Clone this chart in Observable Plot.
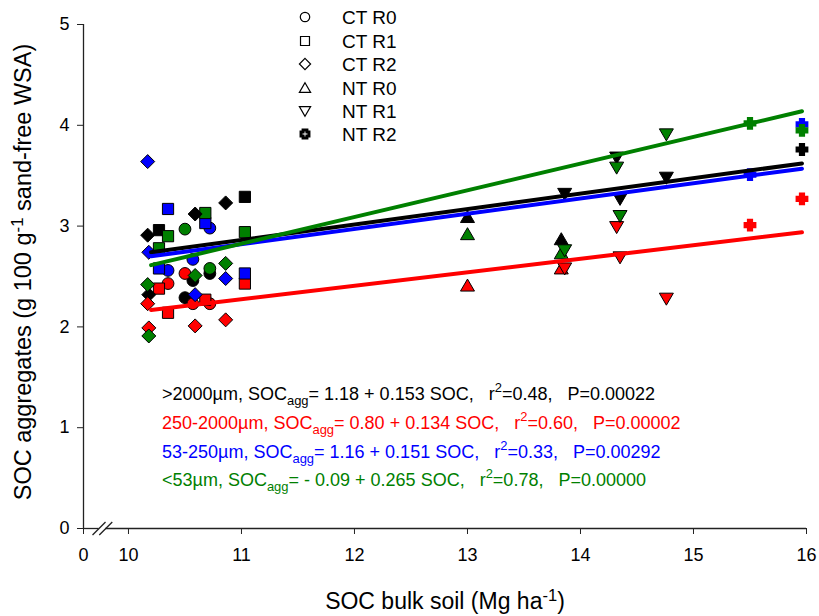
<!DOCTYPE html>
<html><head><meta charset="utf-8">
<script src="https://cdn.jsdelivr.net/npm/d3@7"></script>
<script src="https://cdn.jsdelivr.net/npm/@observablehq/plot@0.6"></script>
<style>body{margin:0;background:#fff} #chart{width:819px;height:616px}</style>
</head><body><div id="chart"></div>
<script>
// ---------- data ----------
const treatments = ["CT R0", "CT R1", "CT R2", "NT R0", "NT R1", "NT R2"];
const fractions = [">2000µm", "250-2000µm", "53-250µm", "<53µm"];
const fractionColors = ["#000000", "#ff0000", "#0000ff", "#008000"];

// bulk-soil SOC (x) per replicate, and SOC of aggregates per fraction [black, red, blue, green]
const socCTR0 = [10.35, 10.50, 10.57, 10.72];
const aggCTR0 = [[null, 2.29, 2.46, 2.53], [2.43, 2.53, 2.23, 2.23], [2.56, null, 2.67, 2.98], [null, 2.97, null, 2.58]];
const socCTR1 = [10.27, 10.35, 10.68, 11.03];
const aggCTR1 = [[2.96, null, null, 3.29], [2.38, 2.14, 2.27, 2.43], [2.58, 3.17, 3.03, 2.53], [2.78, 2.90, 3.13, 2.94]];
const socCTR2 = [10.17, 10.18, 10.59, 10.86];
const aggCTR2 = [[2.91, 2.32, 3.12, 3.23], [2.23, 1.99, 2.01, 2.07], [3.64, 2.74, 2.32, 2.48], [2.42, 1.91, 2.51, 2.63]];
const socNTR0 = [13.00, 13.83];
const aggNTR0 = [[3.09, 2.87], [2.41, 2.58], [null, null], [2.92, 2.73]];
const socNTR1 = [13.86, 14.32, 14.35, 14.76];
const aggNTR1 = [[3.32, 3.68, 3.27, 3.48], [2.58, 2.99, 2.69, 2.28], [null, null, null, null], [2.76, 3.58, 3.10, 3.91]];
const socNTR2 = [15.50, 15.96];
const aggNTR2 = [[null, 3.76], [3.01, 3.27], [3.51, 4.01], [4.02, 3.95]];

// regression lines (intercept, slope) and fitted range
const regIntercept = [1.18, 0.80, 1.16, -0.09];
const regSlope = [0.153, 0.134, 0.151, 0.265];
const regRange = [10.2, 15.96];
const regLabels = [
  [">2000µm, SOC", "= 1.18 + 0.153 SOC,   r", "=0.48,   P=0.00022"],
  ["250-2000µm, SOC", "= 0.80 + 0.134 SOC,   r", "=0.60,   P=0.00002"],
  ["53-250µm, SOC", "= 1.16 + 0.151 SOC,   r", "=0.33,   P=0.00292"],
  ["<53µm, SOC", "= - 0.09 + 0.265 SOC,   r", "=0.78,   P=0.00000"]
];

const xTicks = [0, 10, 11, 12, 13, 14, 15, 16];
const yTicks = [0, 1, 2, 3, 4, 5];
const axisBreak = [3.45, 4.95];          // x-axis break (slash positions, data units)
const xAxisSegments = [[0, 3.45], [4.95, 16]];
const breakScale = 0.0398;               // compression of the 0–10 span on the broken axis
const xBreak = v => v >= 10 ? v : 10 - (10 - v) * breakScale;
const xUnbreak = v => v >= 10 ? v : 10 - (10 - v) / breakScale;

// ---------- symbols ----------
const K = s => Math.sqrt(s / Math.PI) / 5.5;
const symbols = {
  "CT R0": {draw(c, s) { const r = 5.9 * K(s); c.moveTo(r, 0); c.arc(0, 0, r, 0, 2 * Math.PI); c.closePath(); }},
  "CT R1": {draw(c, s) { const h = 5.6 * K(s); c.moveTo(-h, -h); c.lineTo(h, -h); c.lineTo(h, h); c.lineTo(-h, h); c.closePath(); }},
  "CT R2": {draw(c, s) { const d = 7 * K(s); c.moveTo(0, -d); c.lineTo(d, 0); c.lineTo(0, d); c.lineTo(-d, 0); c.closePath(); }},
  "NT R0": {draw(c, s) { const k = K(s); c.moveTo(0, -6.5 * k); c.lineTo(7 * k, 5.5 * k); c.lineTo(-7 * k, 5.5 * k); c.closePath(); }},
  "NT R1": {draw(c, s) { const k = K(s); c.moveTo(0, 6.5 * k); c.lineTo(7 * k, -5.5 * k); c.lineTo(-7 * k, -5.5 * k); c.closePath(); }},
  "NT R2": {draw(c, s) { const k = K(s), a = 6.4 * k, b = 3.1 * k;
    c.moveTo(-b, -a); c.lineTo(b, -a); c.lineTo(b, -b); c.lineTo(a, -b); c.lineTo(a, b); c.lineTo(b, b);
    c.lineTo(b, a); c.lineTo(-b, a); c.lineTo(-b, b); c.lineTo(-a, b); c.lineTo(-a, -b); c.lineTo(-b, -b); c.closePath(); }}
};
const slashSymbol = {draw(c) { c.moveTo(-6.5, 6.5); c.lineTo(6.5, -6.5); }};

const sources = {
  "CT R0": [socCTR0, aggCTR0], "CT R1": [socCTR1, aggCTR1], "CT R2": [socCTR2, aggCTR2],
  "NT R0": [socNTR0, aggNTR0], "NT R1": [socNTR1, aggNTR1], "NT R2": [socNTR2, aggNTR2]
};
function rows(t) {
  const [soc, agg] = sources[t];
  const out = [];
  agg.forEach((vals, f) => vals.forEach((v, i) => { if (v != null) out.push({soc: soc[i], agg: v, color: fractionColors[f]}); }));
  return out;
}
const regLines = [];
[1, 0, 2, 3].forEach(f => regRange.forEach(x => regLines.push({f, x, y: regIntercept[f] + regSlope[f] * x, color: fractionColors[f]})));
const axisRows = xAxisSegments.map(([a, b]) => ({x1: a, x2: b}));

const font = "Liberation Sans, Arial, Helvetica, sans-serif";
const plot = Plot.plot({
  width: 819, height: 616,
  marginLeft: 83, marginRight: 13, marginTop: 24, marginBottom: 88,
  style: {fontFamily: font, background: "#fff", color: "#000"},
  x: {transform: xBreak, domain: [xBreak(0), 16]},
  y: {domain: [0, 5]},
  color: {type: "identity"},
  marks: [
    ...treatments.map(t => Plot.dot(rows(t), {
      x: "soc", y: "agg", fill: "color", r: 5.5, symbol: symbols[t],
      stroke: t === "NT R2" ? "none" : "#000", strokeWidth: 1
    })),
    Plot.line(regLines, {x: "x", y: "y", z: "f", stroke: "color", strokeWidth: 4}),
    Plot.ruleX([0], {y1: 0, y2: 5, stroke: "#222", strokeWidth: 1.3}),
    Plot.ruleY(axisRows, {y: 0, x1: "x1", x2: "x2", stroke: "#222", strokeWidth: 1.3}),
    Plot.dot(axisBreak, {x: d => d, y: 0, symbol: slashSymbol, fill: "none", stroke: "#222", strokeWidth: 1.3}),
    Plot.axisX({ticks: xTicks.map(xBreak), tickFormat: v => String(Math.round(xUnbreak(v))), tickSize: 6, tickPadding: 14, fontSize: 18, label: null, stroke: "#222"}),
    Plot.axisY({ticks: yTicks, tickFormat: d3.format("d"), tickSize: 6, tickPadding: 8, fontSize: 18, label: null, stroke: "#222"})
  ]
});
document.getElementById("chart").append(plot);

// ---------- text decorations (layout) ----------
const svg = d3.select(plot);

function rich(parent, x, y, parts, size, fill, anchor) {
  const t = parent.append("text").attr("x", x).attr("y", y).attr("font-size", size)
    .attr("fill", fill).attr("text-anchor", anchor || "start").attr("font-family", font)
    .style("white-space", "pre");
  let shift = 0;
  for (const p of parts) {
    const target = p.sub ? 5 : p.sup ? -8 : 0;
    const ts = t.append("tspan").attr("dy", target - shift).text(p.t);
    if (p.sub || p.sup) ts.attr("font-size", size * 0.72);
    shift = target;
  }
  return t;
}

// equations
const eqY = [400, 429, 458, 486];
regLabels.forEach((lab, f) => {
  rich(svg, 162, eqY[f], [{t: lab[0]}, {t: "agg", sub: true}, {t: lab[1]}, {t: "2", sup: true}, {t: lab[2]}], 18, fractionColors[f]);
});

// axis titles
rich(svg, 445, 609, [{t: "SOC bulk soil (Mg ha"}, {t: "-1", sup: true}, {t: ")"}], 23, "#000", "middle");
const yt = svg.append("g").attr("transform", "translate(31,272) rotate(-90)");
rich(yt, 0, 0, [{t: "SOC aggregates (g 100 g"}, {t: "-1", sup: true}, {t: " sand-free WSA)"}], 23.5, "#000", "middle");

// legend
const legY = [17, 41, 64, 88, 111, 134];
treatments.forEach((t, i) => {
  const p = d3.path();
  const isCross = t === "NT R2";
  symbols[t].draw(p, Math.PI * (isCross ? 3.4 : 4.4) ** 2);
  svg.append("path").attr("d", p.toString()).attr("transform", `translate(305,${legY[i]})`)
    .attr("fill", "#fff").attr("stroke", "#000").attr("stroke-width", isCross ? 3 : 1.2);
  svg.append("text").attr("x", 342).attr("y", legY[i] + 7).attr("font-size", 19)
    .attr("text-anchor", "start").attr("font-family", font).text(t);
});
</script></body></html>
